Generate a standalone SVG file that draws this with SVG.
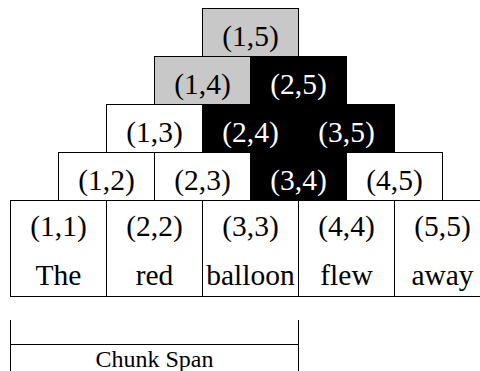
<svg xmlns="http://www.w3.org/2000/svg" width="480" height="371" viewBox="0 0 480 371">
  <style>
    .cell { fill: #ffffff; stroke: #000000; stroke-width: 1; }
    .gray { fill: #c8c8c8; }
    .dark { fill: #000000; }
    .lbl { font-family: "Liberation Serif", "Times New Roman", serif; font-size: 29.5px; text-anchor: middle; fill: #000000; }
    .inv { fill: #ffffff; }
    .span { stroke: #000000; stroke-width: 1; fill: none; }
    .cap { font-family: "Liberation Serif", "Times New Roman", serif; font-size: 24px; text-anchor: middle; fill: #000000; }
  </style>

  <!-- row 5 (top) -->
  <g id="c15"><rect class="cell gray" x="202.5" y="8.5" width="96" height="48"/><text class="lbl" x="250.5" y="45.5">(1,5)</text></g>

  <!-- row 4 -->
  <g id="c14"><rect class="cell gray" x="154.5" y="56.5" width="96" height="48"/><text class="lbl" x="202.5" y="93.5">(1,4)</text></g>
  <g id="c25"><rect class="cell dark" x="250.5" y="56.5" width="96" height="48"/><text class="lbl inv" x="298.5" y="93.5">(2,5)</text></g>

  <!-- row 3 -->
  <g id="c13"><rect class="cell" x="106.5" y="104.5" width="96" height="48"/><text class="lbl" x="154.5" y="141.5">(1,3)</text></g>
  <g id="c24"><rect class="cell dark" x="202.5" y="104.5" width="96" height="48"/><text class="lbl inv" x="250.5" y="141.5">(2,4)</text></g>
  <g id="c35"><rect class="cell dark" x="298.5" y="104.5" width="96" height="48"/><text class="lbl inv" x="346.5" y="141.5">(3,5)</text></g>

  <!-- row 2 -->
  <g id="c12"><rect class="cell" x="58.5" y="152.5" width="96" height="48"/><text class="lbl" x="106.5" y="189.5">(1,2)</text></g>
  <g id="c23"><rect class="cell" x="154.5" y="152.5" width="96" height="48"/><text class="lbl" x="202.5" y="189.5">(2,3)</text></g>
  <g id="c34"><rect class="cell dark" x="250.5" y="152.5" width="96" height="48"/><text class="lbl inv" x="298.5" y="189.5">(3,4)</text></g>
  <g id="c45"><rect class="cell" x="346.5" y="152.5" width="96" height="48"/><text class="lbl" x="394.5" y="189.5">(4,5)</text></g>

  <!-- row 1: words -->
  <g id="c11"><rect class="cell" x="10.5" y="200.5" width="96" height="96"/><text class="lbl" x="58.5" y="236">(1,1)</text><text class="lbl" x="58.5" y="285">The</text></g>
  <g id="c22"><rect class="cell" x="106.5" y="200.5" width="96" height="96"/><text class="lbl" x="154.5" y="236">(2,2)</text><text class="lbl" x="154.5" y="285">red</text></g>
  <g id="c33"><rect class="cell" x="202.5" y="200.5" width="96" height="96"/><text class="lbl" x="250.5" y="236">(3,3)</text><text class="lbl" x="250.5" y="285">balloon</text></g>
  <g id="c44"><rect class="cell" x="298.5" y="200.5" width="96" height="96"/><text class="lbl" x="346.5" y="236">(4,4)</text><text class="lbl" x="346.5" y="285">flew</text></g>
  <g id="c55"><rect class="cell" x="394.5" y="200.5" width="96" height="96"/><text class="lbl" x="442.5" y="236">(5,5)</text><text class="lbl" x="442.5" y="285">away</text></g>

  <!-- span bracket -->
  <g id="connectors">
    <line class="span" x1="10.5" y1="320" x2="10.5" y2="371"/>
    <line class="span" x1="298.5" y1="320" x2="298.5" y2="371"/>
    <line class="span" x1="10.5" y1="344.5" x2="298.5" y2="344.5"/>
  </g>
  <text class="cap" x="154.5" y="367">Chunk Span</text>
</svg>
